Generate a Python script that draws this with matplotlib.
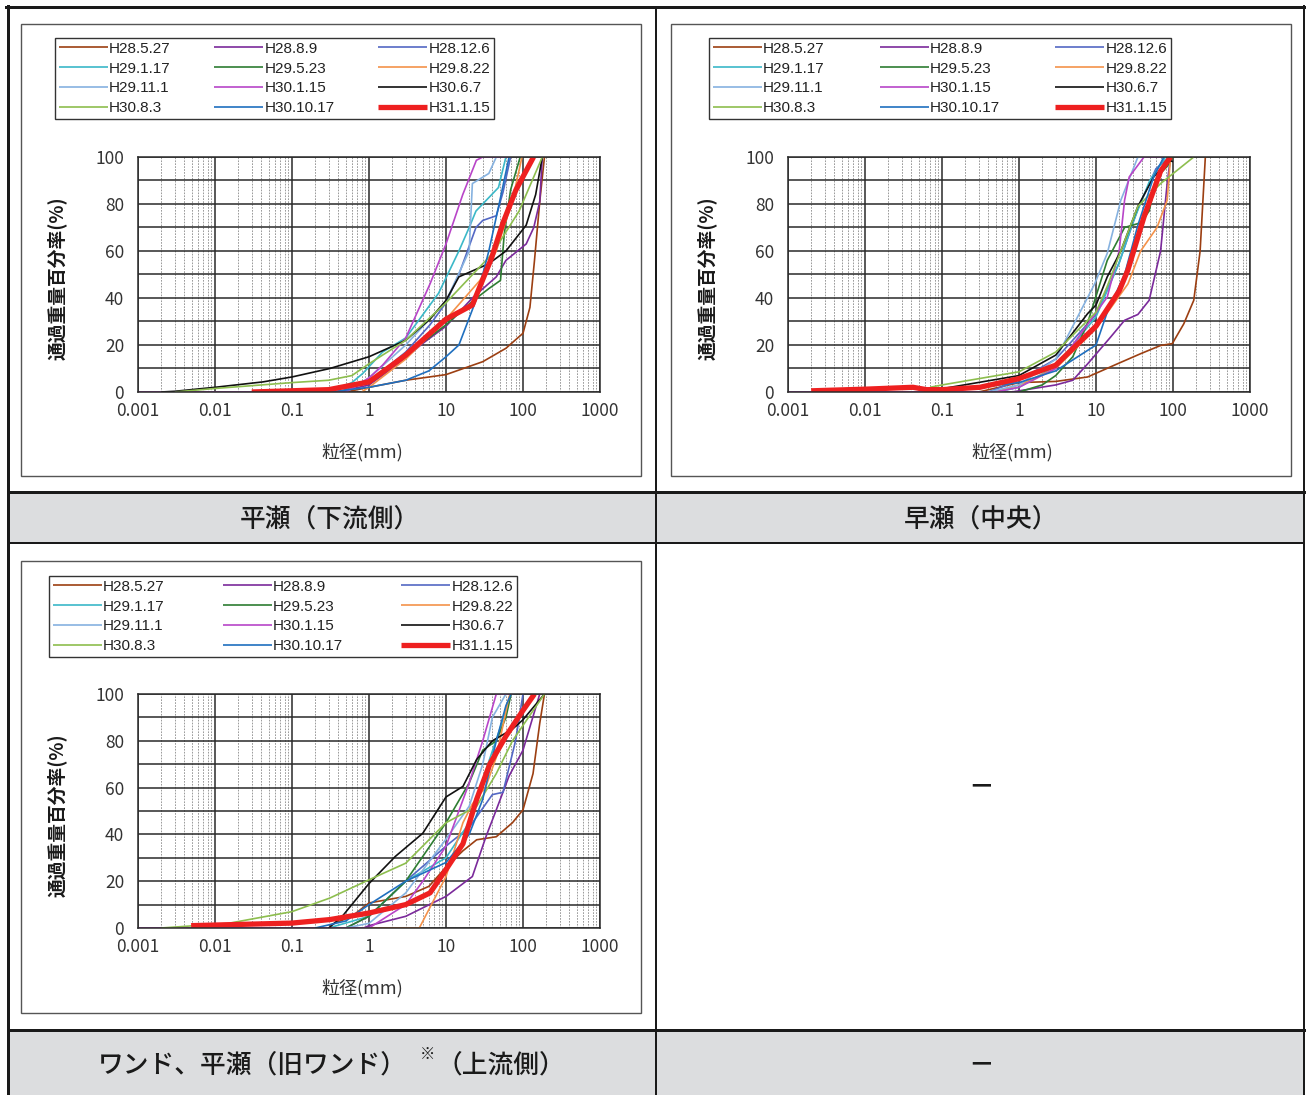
import matplotlib
matplotlib.use("Agg")
import matplotlib.pyplot as plt
from matplotlib.patches import Rectangle
from matplotlib.ticker import LogLocator, NullFormatter, MultipleLocator

plt.rcParams['font.family'] = ['Noto Sans CJK JP', 'DejaVu Sans']

W, H = 1306, 1095

# --- 系列名と色 ---
names = ["H28.5.27", "H28.8.9", "H28.12.6", "H29.1.17", "H29.5.23", "H29.8.22",
         "H29.11.1", "H30.1.15", "H30.6.7", "H30.8.3", "H30.10.17", "H31.1.15"]
colors = ["#9C3F12", "#7B2A9B", "#5468C4", "#3BB8C8", "#2E7D32", "#F4924A",
          "#86B2E0", "#B845C8", "#111111", "#8DBE4E", "#1F6FBF", "#EE2020"]

# --- 平瀬（下流側）: 粒径(mm) と 通過重量百分率(%) ---
hirase_d = {
    "H28.5.27": [0.5, 1, 3, 10, 30, 60, 100, 123, 141, 165, 190],
    "H28.8.9": [0.4, 1, 2.2, 5, 10, 22, 45, 60, 110, 138, 165, 178],
    "H28.12.6": [0.4, 1, 3, 6.2, 10, 14.7, 24.5, 30, 45, 55, 69],
    "H29.1.17": [0.3, 0.6, 0.83, 1.5, 3, 8, 14.7, 20, 24.5, 48, 60],
    "H29.5.23": [0.1, 0.3, 1, 3, 10, 22, 36, 51, 57, 69, 92],
    "H29.8.22": [0.8, 1, 3, 10, 27.6, 45, 73, 97],
    "H29.11.1": [0.5, 1, 3, 10, 20, 22, 36, 45],
    "H30.1.15": [0.001, 0.5, 1, 1.5, 3, 6.2, 10, 16.5, 24.8, 30, 66],
    "H30.6.7": [0.002, 0.003, 0.01, 0.042, 0.1, 0.31, 1, 3, 6.2, 10, 14.7, 36, 60, 110, 146, 178],
    "H30.8.3": [0.003, 0.01, 0.1, 0.3, 0.6, 1, 3, 10, 40, 89, 178],
    "H30.10.17": [0.3, 1, 3, 6, 10, 14.7, 24.5, 36, 49, 66],
    "H31.1.15": [0.03, 0.3, 1, 3, 10, 22, 39, 55, 81, 137],
}
hirase_p = {
    "H28.5.27": [0, 2, 5, 7.4, 12.9, 18.6, 25, 36, 56, 81, 100],
    "H28.8.9": [0, 3, 11, 20.7, 28, 40, 49, 56, 63, 70, 81, 100],
    "H28.12.6": [0, 4.3, 17, 28.6, 38, 50, 70, 73, 75, 85, 100],
    "H29.1.17": [0, 4, 7.9, 17, 23, 42, 60, 70, 77, 87, 100],
    "H29.5.23": [0, 1, 5, 15.7, 28.6, 38.6, 44, 47.5, 67, 86, 100],
    "H29.8.22": [0, 2, 14, 31, 47.5, 60, 81.6, 100],
    "H29.11.1": [0, 6, 20, 38.6, 60, 88.7, 93, 100],
    "H30.1.15": [0, 0, 6, 11.4, 23, 46, 63, 84, 98.6, 100, 100],
    "H30.6.7": [0, 0.3, 2, 4.3, 6.4, 10, 15, 22, 31, 39, 49, 54.6, 60, 71, 84, 100],
    "H30.8.3": [0, 1.5, 4, 5, 7, 12, 22, 38, 58.9, 77, 100],
    "H30.10.17": [0, 2, 5, 9, 15, 20, 39, 60, 80, 100],
    "H31.1.15": [0, 1, 4.3, 15.7, 31, 37, 57, 72, 86, 100],
}

# --- 早瀬（中央） ---
hayase_d = {
    "H28.5.27": [0.3, 1, 3, 7.8, 19, 38, 69, 98, 138, 186, 225, 263],
    "H28.8.9": [0.8, 1, 3, 5, 7.8, 15.5, 23.5, 35, 49, 69, 84, 93],
    "H28.12.6": [0.4, 1, 3, 10, 20, 35, 60, 90],
    "H29.1.17": [0.5, 1, 3, 10, 20, 30, 50, 80],
    "H29.5.23": [1, 2, 3, 5, 7.8, 14, 23.5, 38, 49, 62, 84, 100],
    "H29.8.22": [0.5, 1, 3, 10, 26, 38, 62, 84, 93],
    "H29.11.1": [0.4, 1, 3, 9.6, 14, 21, 35, 44],
    "H30.1.15": [0.001, 0.5, 1, 3, 14, 20, 23.5, 27, 42, 75],
    "H30.6.7": [0.075, 0.1, 1, 3, 7.8, 10, 14, 21, 35, 56, 89, 100],
    "H30.8.3": [0.07, 0.1, 1, 3, 10, 14, 35, 69, 186],
    "H30.10.17": [0.1, 1, 3, 10, 14, 23.5, 35, 56, 76],
    "H31.1.15": [0.002, 0.01, 0.042, 0.063, 0.1, 0.31, 1, 3, 10, 20, 26, 42, 69, 93],
}
hayase_p = {
    "H28.5.27": [0, 4, 4.5, 6.4, 12, 16.3, 19.8, 20.6, 29, 39, 60, 100],
    "H28.8.9": [0, 0.5, 3, 5, 12, 23.4, 30.5, 33, 39, 60, 88.7, 100],
    "H28.12.6": [0, 5, 14, 33, 55, 78, 95, 100],
    "H29.1.17": [0, 2, 11, 32, 55, 72, 90, 100],
    "H29.5.23": [0, 3, 7, 15, 29.5, 56, 70, 72, 77, 91.5, 96, 100],
    "H29.8.22": [0, 3, 10, 27, 46, 60, 70, 81.6, 100],
    "H29.11.1": [0, 3, 14, 46, 59, 81.6, 100, 100],
    "H30.1.15": [0, 0, 2, 10, 40.4, 60, 81.6, 91.5, 100, 100],
    "H30.6.7": [0.5, 1.4, 7, 15.7, 33.4, 37, 49, 60, 79, 91.5, 98.6, 98],
    "H30.8.3": [2, 3, 8.6, 17, 34, 45, 79, 88.7, 100],
    "H30.10.17": [0, 4, 9, 20, 34, 50, 71, 91.5, 100],
    "H31.1.15": [0.5, 1.2, 2, 1, 1, 2, 5.7, 11.4, 28, 43, 52, 74.5, 94, 100],
}

# --- ワンド、平瀬（旧ワンド）（上流側） ---
wando_d = {
    "H28.5.27": [0.3, 0.6, 1, 3, 6, 10, 16.6, 25, 45, 73, 100, 135, 165, 190],
    "H28.8.9": [0.85, 1, 3, 10, 22, 33, 45, 66, 100, 165],
    "H28.12.6": [0.5, 1, 3, 10, 20, 40, 55, 80, 100],
    "H29.1.17": [0.3, 1, 3, 10, 20, 35, 50, 70],
    "H29.5.23": [0.5, 1, 3, 10, 20, 30, 45, 60, 70],
    "H29.8.22": [0.1, 4.5, 10, 16.6, 22, 33, 45, 66, 70],
    "H29.11.1": [0.5, 1, 3, 10, 20, 30, 40, 60],
    "H30.1.15": [0.001, 1, 3, 5, 10, 20, 30, 45, 75],
    "H30.6.7": [0.3, 0.45, 1, 2.2, 5, 10, 16.6, 25, 40, 73, 100, 190],
    "H30.8.3": [0.002, 0.015, 0.1, 0.31, 1, 3, 10, 25, 45, 73, 190],
    "H30.10.17": [0.2, 0.5, 1, 3, 10, 20, 30, 45, 60, 70],
    "H31.1.15": [0.0049, 0.1, 0.31, 1, 3, 6.2, 10, 16.6, 25, 37, 60, 100, 141],
}
wando_p = {
    "H28.5.27": [1, 5, 10.7, 13.5, 17.8, 26, 33, 37.7, 39, 45, 50.5, 66, 87.5, 100],
    "H28.8.9": [0, 1, 5, 13.5, 22, 39, 50.5, 65, 76, 100],
    "H28.12.6": [0, 5, 20, 35, 43, 57, 58, 80, 100],
    "H29.1.17": [0, 5, 20, 30, 45, 70, 85, 100],
    "H29.5.23": [0, 5, 20, 45, 62, 76, 80, 90, 100],
    "H29.8.22": [0, 0, 22, 45, 53, 60.5, 73, 99, 100],
    "H29.11.1": [0, 2, 15, 38, 52, 70, 90, 100],
    "H30.1.15": [0, 0, 10, 20, 35, 62, 80, 100, 100],
    "H30.6.7": [0, 5, 19, 30.6, 40.5, 56, 60.5, 72, 80, 85, 89, 100],
    "H30.8.3": [0, 2, 7, 12.8, 20.6, 27.7, 45, 52, 66, 80, 100],
    "H30.10.17": [0, 3, 10, 20, 28, 40, 55, 80, 95, 100],
    "H31.1.15": [1, 2.1, 3.6, 6.4, 10, 15, 25, 36, 55, 70, 82, 93, 100],
}

x_ticks = [0.001, 0.01, 0.1, 1, 10, 100, 1000]
x_ticklabels = ["0.001", "0.01", "0.1", "1", "10", "100", "1000"]


def fbox(x0, y0, x1, y1):
    # ピクセル座標 -> figure 座標
    return [x0 / W, 1 - y1 / H, (x1 - x0) / W, (y1 - y0) / H]


fig = plt.figure(figsize=(W / 100, H / 100), dpi=100)

# 表の枠
bg = fig.add_axes([0, 0, 1, 1])
bg.set_xlim(0, W)
bg.set_ylim(H, 0)
bg.axis('off')

bg.add_patch(Rectangle((8, 493), 1296, 50, fc='#DCDDDF', ec='none'))
bg.add_patch(Rectangle((8, 1031), 1296, 70, fc='#DCDDDF', ec='none'))
k = 0.72
bg.plot([8, 8], [6, H], color='#1a1a1a', lw=3 * k)
bg.plot([1304, 1304], [6, H], color='#1a1a1a', lw=2 * k)
bg.plot([6, W], [7, 7], color='#1a1a1a', lw=3 * k)
bg.plot([656, 656], [7, H], color='#1a1a1a', lw=2 * k)
bg.plot([8, 1304], [492, 492], color='#1a1a1a', lw=3 * k)
bg.plot([8, 1304], [543, 543], color='#1a1a1a', lw=2 * k)
bg.plot([8, 1304], [1030, 1030], color='#1a1a1a', lw=3 * k)

tfont = dict(fontsize=18.5, fontweight='medium', color='#1a1a1a', va='center')
bg.text(330, 519, "平瀬（下流側）", ha='center', **tfont)
bg.text(981, 519, "早瀬（中央）", ha='center', **tfont)
bg.text(407, 1065, "ワンド、平瀬（旧ワンド）", ha='right', **tfont)
bg.text(428, 1054, "※", ha='center', va='center', fontsize=11, color='#1a1a1a')
bg.text(436, 1065, "（上流側）", ha='left', **tfont)
bg.text(981, 787, "－", ha='center', fontsize=18.5, fontweight='bold', color='#1a1a1a', va='center')
bg.text(981, 1065, "－", ha='center', fontsize=18.5, fontweight='bold', color='#1a1a1a', va='center')

panels = [
    (hirase_d, hirase_p, (138, 157, 600, 392), (21, 24, 641, 476), (55, 38, 494, 120)),
    (hayase_d, hayase_p, (788, 157, 1250, 392), (671, 24, 1291, 476), (709, 38, 1171, 121)),
    (wando_d, wando_p, (138, 694, 600, 928), (21, 561, 641, 1013), (49, 576, 517, 663)),
]

for dd, pp, axb, frame, leg in panels:
    fx0, fy0, fx1, fy1 = frame
    bg.add_patch(Rectangle((fx0, fy0), fx1 - fx0, fy1 - fy0, fc='white', ec='#555555', lw=1.0))

    ax = fig.add_axes(fbox(*axb))
    ax.set_xscale('log')
    lines = []
    for name, c in zip(names, colors):
        lw = 3.8 if name == "H31.1.15" else 1.2
        ln, = ax.plot(dd[name], pp[name], color=c, lw=lw, label=name,
                      solid_joinstyle='round', solid_capstyle='butt', clip_on=True)
        lines.append(ln)

    ax.set_xlim(1e-3, 1e3)
    ax.set_ylim(0, 100)
    ax.set_xticks(x_ticks)
    ax.set_xticklabels(x_ticklabels)
    ax.xaxis.set_minor_locator(LogLocator(base=10, subs=range(2, 10), numticks=20))
    ax.xaxis.set_minor_formatter(NullFormatter())
    ax.yaxis.set_major_locator(MultipleLocator(20))
    ax.yaxis.set_minor_locator(MultipleLocator(10))
    ax.set_axisbelow(True)
    ax.grid(which='major', axis='both', color='#2a2a2a', lw=1.1)
    ax.grid(which='minor', axis='y', color='#2a2a2a', lw=1.1)
    ax.grid(which='minor', axis='x', color='#8a8a8a', lw=0.6, ls=(0, (2, 1.5)))
    ax.tick_params(which='both', length=0, labelsize=12.5, labelcolor='#333333')
    ax.tick_params(axis='y', pad=10)
    ax.tick_params(axis='x', pad=7)
    for s in ax.spines.values():
        s.set_color('#2a2a2a')
        s.set_linewidth(1.1)

    # 軸ラベル
    cx = (axb[0] + axb[2]) / 2
    bg.text(axb[0] - 81, (axb[1] + axb[3]) / 2 + 4, "通過重量百分率(%)", rotation=90,
            ha='center', va='center', fontsize=13.5, fontweight='bold', color='#1a1a1a')
    bg.text(cx - 7, axb[3] + 60, "粒径(mm)", ha='center', va='center',
            fontsize=13, color='#333333')

    # 凡例（行方向の並びにする）
    order = [0, 3, 6, 9, 1, 4, 7, 10, 2, 5, 8, 11]
    lx0, ly0, lx1, ly1 = leg
    lg = fig.legend([lines[i] for i in order], [names[i] for i in order],
                    loc='upper left', bbox_to_anchor=fbox(lx0, ly0, lx1, ly1),
                    bbox_transform=fig.transFigure, mode='expand', ncol=3,
                    fancybox=False, edgecolor='#333333', framealpha=1,
                    borderaxespad=0, handlelength=3.2, handletextpad=0.1,
                    labelspacing=0.38, borderpad=0.25, columnspacing=1.0,
                    prop={'family': 'Liberation Sans', 'size': 11})
    lg.get_frame().set_linewidth(1.0)
    for t in lg.get_texts():
        t.set_color('#222222')

fig.savefig("out.png", dpi=100)
